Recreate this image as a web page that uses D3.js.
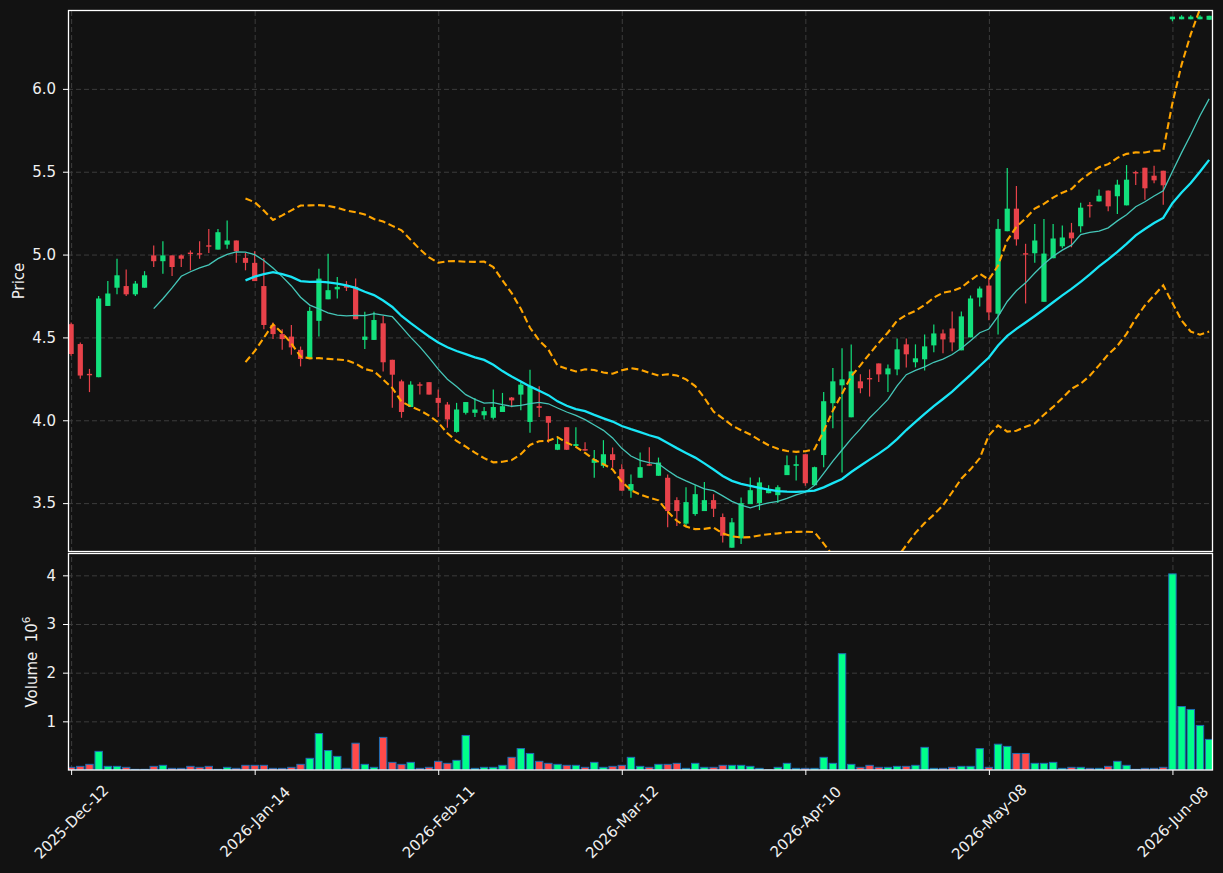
<!DOCTYPE html>
<html><head><meta charset="utf-8">
<script src="https://cdn.jsdelivr.net/npm/d3@7"></script>
<style>
html,body{margin:0;padding:0;background:#121212;}
svg{display:block;}
text{font-family:"DejaVu Sans",sans-serif;}
</style></head><body>
<svg id="chart" width="1223" height="873"></svg>
<script>
// ---- data ----
const opens  = [4.58,4.46,4.28,4.26,4.69,4.80,4.81,4.76,4.80,4.995,
  4.96,4.995,4.995,5.012,5.008,5.056,5.03,5.06,5.085,4.98,
  4.95,4.81,4.575,4.52,4.505,4.425,4.37,4.60,4.73,4.79,
  4.812,4.805,4.485,4.485,4.585,4.365,4.235,4.08,4.217,4.23,
  4.135,4.095,3.93,4.045,4.045,4.03,4.015,4.05,4.137,4.155,
  3.99,4.085,4.025,3.822,3.958,3.845,3.826,3.743,3.725,3.795,
  3.705,3.575,3.653,3.735,3.665,3.653,3.518,3.376,3.434,3.452,
  3.518,3.416,3.231,3.287,3.494,3.50,3.56,3.548,3.669,3.725,
  3.795,3.608,3.79,4.103,4.211,4.018,4.235,4.255,4.343,4.277,
  4.307,4.458,4.35,4.368,4.452,4.524,4.554,4.422,4.50,4.741,
  4.813,4.643,5.141,5.277,5.008,5.008,4.715,4.978,5.05,5.133,
  5.171,5.30,5.321,5.386,5.352,5.297,5.498,5.524,5.476,5.506,
  6.42,6.42,6.42,6.42,6.417];
const highs  = [4.59,4.47,4.31,4.75,4.84,4.975,4.91,4.84,4.90,5.055,
  5.08,4.995,5.0,5.025,5.08,5.155,5.155,5.205,5.085,5.01,
  5.02,4.98,4.59,4.55,4.575,4.445,4.685,4.915,5.005,4.865,
  4.84,4.855,4.655,4.655,4.63,4.365,4.245,4.235,4.23,4.23,
  4.185,4.11,4.105,4.11,4.135,4.08,4.185,4.165,4.14,4.23,
  4.305,4.205,4.025,3.90,3.958,3.958,3.867,3.82,3.88,3.835,
  3.735,3.673,3.805,3.837,3.775,3.673,3.536,3.596,3.608,3.627,
  3.554,3.438,3.41,3.534,3.655,3.655,3.608,3.608,3.787,3.787,
  3.795,3.72,4.17,4.315,4.434,4.458,4.277,4.307,4.343,4.337,
  4.494,4.494,4.458,4.518,4.578,4.548,4.657,4.657,4.753,4.807,
  4.856,5.215,5.522,5.414,5.065,5.185,5.215,5.185,5.175,5.191,
  5.313,5.318,5.392,5.386,5.452,5.54,5.506,5.524,5.536,5.506,
  6.436,6.444,6.444,6.444,6.441];
const lows   = [4.39,4.25,4.17,4.26,4.69,4.76,4.75,4.75,4.80,4.925,
  4.885,4.87,4.925,4.905,4.975,5.01,5.03,5.035,4.95,4.905,
  4.84,4.55,4.49,4.425,4.395,4.325,4.37,4.505,4.73,4.735,
  4.78,4.61,4.43,4.485,4.295,4.075,4.015,4.08,4.155,4.155,
  4.02,3.955,3.925,4.035,4.02,4.005,4.005,4.05,4.078,4.06,
  3.925,4.02,3.865,3.82,3.82,3.843,3.816,3.653,3.713,3.713,
  3.575,3.532,3.653,3.725,3.665,3.355,3.362,3.362,3.424,3.452,
  3.416,3.263,3.231,3.253,3.494,3.458,3.56,3.50,3.669,3.637,
  3.605,3.608,3.717,3.952,3.685,4.018,4.163,4.143,4.231,4.171,
  4.271,4.319,4.319,4.301,4.41,4.404,4.416,4.422,4.50,4.687,
  4.603,4.518,5.141,5.054,4.705,4.95,4.715,4.978,5.038,5.044,
  5.133,5.223,5.321,5.261,5.245,5.297,5.42,5.331,5.43,5.30,
  6.408,6.42,6.42,6.42,6.417];
const closes = [4.40,4.27,4.275,4.735,4.765,4.875,4.76,4.825,4.875,4.96,
  4.995,4.925,4.975,5.008,5.004,5.052,5.135,5.085,5.02,4.95,
  4.84,4.575,4.52,4.49,4.44,4.37,4.66,4.855,4.785,4.805,
  4.80,4.61,4.505,4.605,4.35,4.275,4.05,4.215,4.213,4.155,
  4.105,4.005,4.065,4.11,4.065,4.055,4.08,4.085,4.12,4.215,
  4.205,4.075,3.985,3.856,3.822,3.856,3.817,3.765,3.795,3.76,
  3.575,3.615,3.717,3.726,3.745,3.452,3.452,3.506,3.554,3.518,
  3.466,3.303,3.384,3.50,3.578,3.625,3.585,3.596,3.729,3.735,
  3.62,3.717,4.115,4.235,4.247,4.295,4.193,4.251,4.277,4.313,
  4.428,4.398,4.374,4.446,4.524,4.488,4.47,4.627,4.735,4.795,
  4.651,5.155,5.277,5.092,5.004,5.085,5.006,5.097,5.103,5.098,
  5.283,5.292,5.355,5.291,5.422,5.452,5.494,5.40,5.448,5.418,
  6.436,6.436,6.436,6.436,6.441];
const volumes = [0.055,0.075,0.116,0.383,0.075,0.075,0.055,0.014,0.014,0.075,
  0.096,0.034,0.034,0.075,0.055,0.075,0.014,0.055,0.034,0.096,
  0.096,0.096,0.034,0.034,0.055,0.116,0.24,0.75,0.40,0.28,
  0.034,0.55,0.116,0.055,0.67,0.157,0.116,0.157,0.034,0.055,
  0.178,0.137,0.198,0.71,0.034,0.055,0.055,0.096,0.26,0.44,
  0.34,0.178,0.137,0.116,0.096,0.096,0.055,0.157,0.055,0.075,
  0.096,0.26,0.075,0.055,0.116,0.116,0.137,0.034,0.137,0.055,
  0.055,0.096,0.096,0.096,0.075,0.034,0.004,0.055,0.137,0.034,
  0.034,0.034,0.26,0.137,2.39,0.116,0.055,0.096,0.055,0.055,
  0.075,0.075,0.096,0.465,0.034,0.034,0.055,0.075,0.075,0.44,
  0.055,0.53,0.485,0.34,0.34,0.137,0.137,0.157,0.034,0.055,
  0.055,0.034,0.034,0.075,0.178,0.096,0.014,0.034,0.034,0.055,
  4.03,1.305,1.244,0.916,0.629]; // millions
const tickIndex  = [0,20,40,60,80,100,120];
const tickLabels = ["2025-Dec-12","2026-Jan-14","2026-Feb-11","2026-Mar-12","2026-Apr-10","2026-May-08","2026-Jun-08"];
const priceTicks = [3.5,4.0,4.5,5.0,5.5,6.0];
const volumeTicks = [1,2,3,4];
const fastPeriod = 10, slowPeriod = 20, bandK = 2;

// ---- derived indicators (the chart's moving averages / bands of the closes) ----
function sma(arr, n){ return arr.map((v,i)=> i < n-1 ? null : d3.mean(arr.slice(i-n+1,i+1))); }
function band(arr, n, k, sign){
  return arr.map((v,i)=>{
    if(i < n-1) return null;
    const w = arr.slice(i-n+1,i+1), m = d3.mean(w);
    const sd = Math.sqrt(d3.mean(w.map(a=>(a-m)*(a-m))));
    return m + sign*k*sd;
  });
}
const maFast = sma(closes, fastPeriod);
const maSlow = sma(closes, slowPeriod);
const bbUp = band(closes, slowPeriod, bandK, 1);
const bbLo = band(closes, slowPeriod, bandK, -1);

// ---- layout ----
const L = 68, R = 1213, PT = 10, PB = 552, VT = 553, VB = 770;
const GREEN = "#12e07c", RED = "#e8424a", VGREEN = "#00ff8a", VRED = "#ff4a4a", VEDGE = "#1f6db5";
const GRID = "#3c3c3c", AXIS = "#ffffff", TXT = "#f0f0f0";
const idx = d3.range(closes.length);

const x = d3.scaleLinear().domain([-0.34, 124.42]).range([L, R]);
const yP = d3.scaleLinear().domain([3.205, 6.476]).range([PB, PT]);
const yV = d3.scaleLinear().domain([0, 4.459]).range([VB, VT]);

const svg = d3.select("#chart");
svg.append("rect").attr("width",1223).attr("height",873).attr("fill","#121212");

const defs = svg.append("defs");
defs.append("clipPath").attr("id","clipP").append("rect").attr("x",L).attr("y",PT).attr("width",R-L).attr("height",PB-PT);
defs.append("clipPath").attr("id","clipV").append("rect").attr("x",L).attr("y",VT).attr("width",R-L).attr("height",VB-VT);

// grids
function grid(g){ g.selectAll("line").attr("stroke",GRID).attr("stroke-width",1).attr("stroke-dasharray","5,3"); g.select(".domain").remove(); g.selectAll("text").remove(); }
svg.append("g").attr("transform",`translate(${L},0)`).call(d3.axisLeft(yP).tickValues(priceTicks).tickSize(-(R-L))).call(grid);
svg.append("g").attr("transform",`translate(${L},0)`).call(d3.axisLeft(yV).tickValues(volumeTicks).tickSize(-(R-L))).call(grid);
svg.append("g").attr("transform",`translate(0,${PB})`).call(d3.axisBottom(x).tickValues(tickIndex).tickSize(-(PB-PT))).call(grid);
svg.append("g").attr("transform",`translate(0,${VB})`).call(d3.axisBottom(x).tickValues(tickIndex).tickSize(-(VB-VT))).call(grid);

// candles
const cg = svg.append("g").attr("clip-path","url(#clipP)");
const bodyW = 5.2;
cg.selectAll("line.wick").data(idx).enter().append("line")
  .attr("x1",i=>x(i)).attr("x2",i=>x(i))
  .attr("y1",i=>yP(highs[i])).attr("y2",i=>yP(lows[i]))
  .attr("stroke",i=>closes[i]>=opens[i]?GREEN:RED).attr("stroke-width",1.2);
cg.selectAll("rect.body").data(idx).enter().append("rect")
  .attr("x",i=>x(i)-bodyW/2).attr("width",bodyW)
  .attr("y",i=>yP(Math.max(opens[i],closes[i])))
  .attr("height",i=>Math.max(1.4, Math.abs(yP(opens[i])-yP(closes[i]))))
  .attr("fill",i=>closes[i]>=opens[i]?GREEN:RED);

// overlays
function lineOf(arr){ return d3.line().defined((d,i)=>arr[i]!==null).x((d,i)=>x(i)).y((d,i)=>yP(arr[i]))(arr); }
const og = svg.append("g").attr("clip-path","url(#clipP)").attr("fill","none");
og.append("path").attr("d",lineOf(bbUp)).attr("stroke","#ffa500").attr("stroke-width",2.1).attr("stroke-dasharray","7,3.5");
og.append("path").attr("d",lineOf(bbLo)).attr("stroke","#ffa500").attr("stroke-width",2.1).attr("stroke-dasharray","7,3.5");
og.append("path").attr("d",lineOf(maFast)).attr("stroke","#45c6b8").attr("stroke-width",1.3);
og.append("path").attr("d",lineOf(maSlow)).attr("stroke","#19e6f7").attr("stroke-width",2.3);

// volume
const vg = svg.append("g").attr("clip-path","url(#clipV)");
const volW = 7.4;
vg.selectAll("rect.vol").data(idx).enter().append("rect")
  .attr("x",i=>x(i)-volW/2).attr("width",volW)
  .attr("y",i=>yV(volumes[i])).attr("height",i=>yV(0)-yV(volumes[i]))
  .attr("fill",i=>closes[i]>=opens[i]?VGREEN:VRED)
  .attr("stroke",VEDGE).attr("stroke-width",1);

// frames
svg.append("rect").attr("x",L+0.5).attr("y",PT+0.5).attr("width",R-L-1).attr("height",PB-PT-1).attr("fill","none").attr("stroke",AXIS).attr("stroke-width",1.3);
svg.append("rect").attr("x",L+0.5).attr("y",VT+0.5).attr("width",R-L-1).attr("height",VB-VT-0.5).attr("fill","none").attr("stroke",AXIS).attr("stroke-width",1.3);

// axes
function styleAxis(g){ g.select(".domain").remove(); g.selectAll("line").attr("stroke",AXIS).attr("stroke-width",1);
  g.selectAll("text").attr("fill",TXT).attr("font-size",15).attr("font-family","DejaVu Sans"); }
svg.append("g").attr("transform",`translate(${L},0)`)
  .call(d3.axisLeft(yP).tickValues(priceTicks).tickFormat(d3.format(".1f")).tickSize(5).tickPadding(7)).call(styleAxis);
svg.append("g").attr("transform",`translate(${L},0)`)
  .call(d3.axisLeft(yV).tickValues(volumeTicks).tickFormat(d3.format("d")).tickSize(5).tickPadding(7)).call(styleAxis);
const xa = svg.append("g").attr("transform",`translate(0,${VB})`)
  .call(d3.axisBottom(x).tickValues(tickIndex).tickFormat((d,i)=>tickLabels[i]).tickSize(5)).call(styleAxis);
xa.selectAll("text").attr("text-anchor","middle").attr("dominant-baseline","central")
  .attr("y",null).attr("dy",null).attr("transform","translate(0,52) rotate(-45)");

// axis titles
svg.append("text").attr("transform",`translate(19,${(PT+PB)/2}) rotate(-90)`).attr("text-anchor","middle")
  .attr("dominant-baseline","central").attr("fill",TXT).attr("font-size",15).text("Price");
const vt = svg.append("text").attr("transform",`translate(32,662) rotate(-90)`).attr("text-anchor","middle")
  .attr("dominant-baseline","central").attr("fill",TXT).attr("font-size",15);
vt.append("tspan").text("Volume\u00a0\u00a010");
vt.append("tspan").attr("font-size",10.5).attr("dy",-6).text("6");
</script>
</body></html>
